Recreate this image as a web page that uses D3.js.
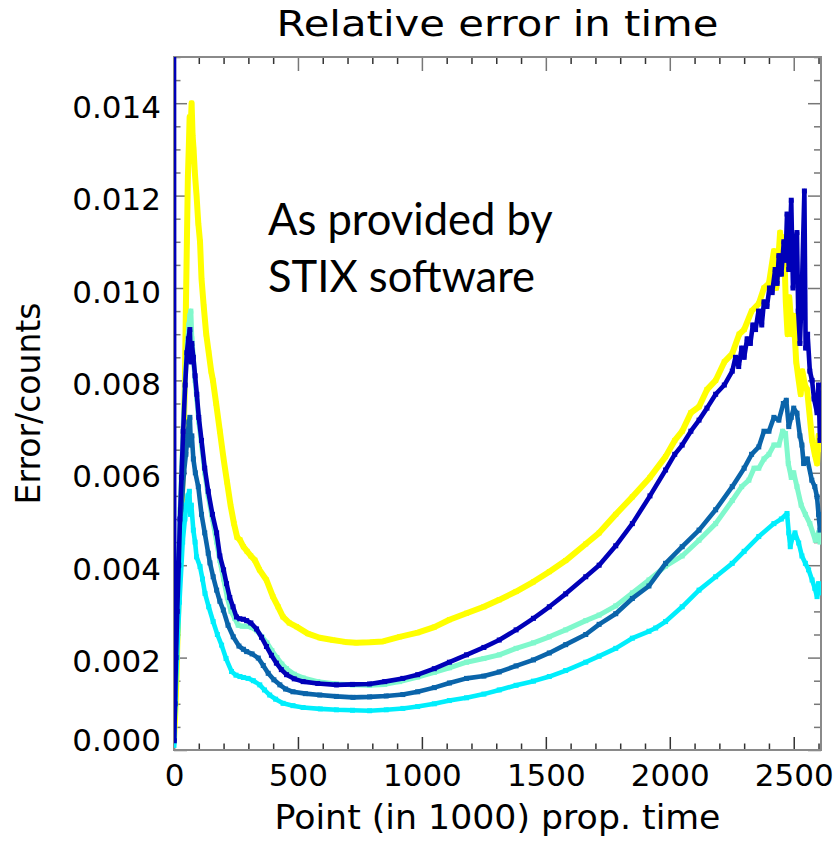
<!DOCTYPE html>
<html>
<head>
<meta charset="utf-8">
<script src="https://cdn.jsdelivr.net/npm/d3@7"></script>
<style>
  body { margin: 0; background: #ffffff; }
  svg { display: block; }
</style>
</head>
<body>
<svg id="chart" width="833" height="860"></svg>
<script>
// ---- axis ticks ----
const xTickValues = [0, 500, 1000, 1500, 2000, 2500];
const xTickLabels = ["0", "500", "1000", "1500", "2000", "2500"];
const yTickValues = [0, 0.002, 0.004, 0.006, 0.008, 0.010, 0.012, 0.014];
const yTickLabels = ["0.000", "0.002", "0.004", "0.006", "0.008", "0.010", "0.012", "0.014"];

// ---- relative error per run: [point (in 1000), error/counts] ----
const yellowSeries = [
  [0,0.0002],[5,0.0008],[10,0.0016],[15,0.0026],[21,0.0040],[28,0.0048],[34,0.0058],[40,0.0070],
  [44,0.0080],[48,0.0096],[52,0.0110],[56,0.0124],[60,0.0131],[63,0.0137],[67,0.0134],[71,0.0140],
  [75,0.0133],[79,0.0130],[84,0.0125],[91,0.0120],[98,0.0114],[105,0.0110],[111,0.0102],[120,0.0096],
  [130,0.0090],[140,0.0086],[150,0.0082],[157,0.0080],[170,0.0075],[185,0.0069],[200,0.0063],[214,0.0058],
  [228,0.0053],[242,0.0049],[255,0.0046],[266,0.00455],[280,0.0044],[295,0.0043],[310,0.0042],[326,0.00411],
  [345,0.0039],[373,0.00368],[399,0.00332],[420,0.0031],[440,0.00288],[465,0.00275],[494,0.00267],[540,0.00252],
  [588,0.00243],[640,0.00238],[690,0.00234],[735,0.00232],[790,0.00233],[843,0.00235],[910,0.00245],[983,0.00254],
  [1050,0.00266],[1111,0.00282],[1180,0.00296],[1250,0.0031],[1312,0.00325],[1380,0.00343],[1450,0.00364],[1514,0.00386],
  [1580,0.0041],[1661,0.00446],[1715,0.0047],[1782,0.0051],[1849,0.00548],[1920,0.0059],[1983,0.00635],[2020,0.0067],
  [2050,0.0069],[2085,0.0073],[2118,0.00743],[2150,0.0078],[2185,0.0080],[2220,0.0084],[2252,0.00858],[2280,0.0090],
  [2300,0.0091],[2330,0.0095],[2359,0.00966],[2380,0.0100],[2400,0.0101],[2420,0.0108],[2430,0.0100],[2445,0.0112],
  [2452,0.0104],[2460,0.0111],[2468,0.0097],[2475,0.0090],[2482,0.0098],[2493,0.0090],[2500,0.0094],[2510,0.0084],
  [2520,0.0080],[2528,0.0077],[2535,0.0082],[2545,0.0079],[2554,0.0078],[2565,0.0072],[2574,0.0067],[2585,0.0064],
  [2594,0.0062],[2600,0.0068],[2606,0.0065]
];

const aquaSeries = [
  [0,0.0002],[4,0.0011],[8,0.0021],[13,0.0031],[19,0.0042],[25,0.0052],[31,0.0061],[38,0.0071],
  [46,0.0081],[54,0.0088],[60,0.0092],[64,0.0094],[68,0.0095],[72,0.0089],[78,0.0085],[85,0.0080],
  [92,0.0076],[100,0.0071],[111,0.0066],[124,0.0060],[138,0.0055],[155,0.0050],[172,0.0045],[185,0.0041],
  [200,0.0037],[215,0.0033],[230,0.0030],[245,0.00285],[259,0.0027],[275,0.00268],[293,0.00268],[315,0.00265],
  [335,0.00258],[355,0.00245],[375,0.00232],[395,0.00215],[415,0.0020],[435,0.00186],[454,0.00176],[485,0.00164],
  [521,0.00156],[580,0.00148],[655,0.00143],[720,0.00141],[789,0.0014],[850,0.00142],[910,0.00148],[983,0.00158],
  [1050,0.00168],[1111,0.00178],[1180,0.0019],[1250,0.00198],[1312,0.00206],[1380,0.0022],[1450,0.00232],[1514,0.00245],
  [1580,0.0026],[1661,0.0028],[1715,0.00292],[1782,0.00312],[1849,0.00340],[1916,0.00368],[1983,0.00398],[2050,0.0042],
  [2118,0.00454],[2185,0.0049],[2252,0.0054],[2290,0.0057],[2319,0.00584],[2340,0.0061],[2359,0.0061],[2380,0.0063],
  [2400,0.0064],[2420,0.0066],[2440,0.0066],[2455,0.0069],[2467,0.00685],[2478,0.0062],[2490,0.0059],[2500,0.0060],
  [2513,0.0057],[2530,0.0053],[2547,0.0051],[2565,0.0049],[2587,0.00454],[2600,0.0047],[2606,0.0045]
];

const steelSeries = [
  [0,0.0002],[5,0.0012],[12,0.0025],[20,0.0038],[30,0.0052],[40,0.0060],[48,0.0064],[55,0.0068],
  [60,0.0071],[64,0.0072],[68,0.0066],[72,0.0068],[78,0.0063],[86,0.0060],[98,0.0057],[111,0.0051],
  [124,0.0047],[138,0.00426],[145,0.00405],[158,0.00375],[172,0.00346],[185,0.00322],[199,0.00303],[218,0.0027],
  [239,0.00245],[262,0.00225],[280,0.00218],[293,0.00213],[315,0.00208],[340,0.00199],[360,0.00183],[380,0.00166],
  [403,0.00152],[427,0.00141],[450,0.00132],[480,0.00126],[530,0.00122],[588,0.00119],[655,0.00116],[722,0.00114],
  [789,0.00115],[856,0.00117],[923,0.0012],[983,0.00126],[1050,0.00135],[1111,0.00145],[1180,0.00155],[1250,0.0016],
  [1312,0.00169],[1380,0.00182],[1450,0.00195],[1514,0.0021],[1580,0.00228],[1661,0.0025],[1715,0.00272],[1782,0.00295],
  [1849,0.00328],[1916,0.00355],[1983,0.00404],[2050,0.0044],[2118,0.00476],[2185,0.0052],[2252,0.0057],[2300,0.0061],
  [2330,0.0064],[2359,0.00656],[2380,0.0069],[2400,0.0069],[2420,0.0072],[2440,0.00714],[2458,0.0075],[2470,0.00757],
  [2480,0.0070],[2490,0.0072],[2500,0.0074],[2513,0.00729],[2525,0.0068],[2533,0.0066],[2540,0.0062],[2555,0.0063],
  [2573,0.00584],[2585,0.0057],[2594,0.00548],[2600,0.0051],[2606,0.00476]
];

const cyanSeries = [
  [0,0.0001],[5,0.0010],[12,0.0020],[22,0.0032],[35,0.0045],[44,0.0050],[50,0.0053],[56,0.0055],
  [62,0.0056],[66,0.0051],[70,0.0053],[78,0.00476],[85,0.0045],[91,0.00418],[105,0.00397],[115,0.0037],
  [125,0.00339],[140,0.0031],[158,0.00278],[175,0.0025],[192,0.00227],[210,0.00198],[232,0.0017],[250,0.00162],
  [266,0.00159],[280,0.00157],[299,0.00155],[320,0.0015],[346,0.00141],[365,0.0013],[386,0.00119],[410,0.0011],
  [440,0.00101],[480,0.00096],[521,0.00092],[590,0.00089],[655,0.00087],[720,0.00086],[789,0.00085],[856,0.00087],
  [923,0.0009],[983,0.00094],[1050,0.0010],[1111,0.00107],[1180,0.00113],[1250,0.00121],[1312,0.0013],[1380,0.0014],
  [1450,0.00149],[1514,0.00159],[1580,0.00172],[1661,0.0019],[1715,0.00203],[1782,0.0022],[1849,0.00242],[1916,0.00257],
  [1943,0.00264],[1983,0.00278],[2050,0.0031],[2118,0.00346],[2185,0.00375],[2252,0.00404],[2300,0.0043],[2359,0.00462],
  [2420,0.0049],[2450,0.0050],[2473,0.00512],[2480,0.0047],[2486,0.0044],[2495,0.0046],[2505,0.0047],[2520,0.00448],
  [2533,0.0042],[2547,0.00404],[2560,0.0039],[2574,0.00368],[2585,0.0035],[2594,0.00332],[2600,0.0036],[2606,0.0034]
];

const navySeries = [
  [0,0.0165],[1,0.0002],[4,0.0010],[8,0.0020],[13,0.0030],[19,0.0040],[24,0.0050],[30,0.0059],
  [37,0.0069],[45,0.0079],[52,0.0086],[58,0.0089],[64,0.0091],[68,0.0084],[72,0.0088],[78,0.0085],
  [85,0.0081],[92,0.0077],[100,0.0072],[111,0.0067],[124,0.0061],[138,0.0056],[155,0.0051],[172,0.0047],
  [185,0.0042],[200,0.0039],[212,0.0036],[225,0.0033],[238,0.0031],[252,0.00288],[265,0.00284],[280,0.00283],
  [293,0.0028],[310,0.00275],[333,0.00262],[353,0.00244],[373,0.00224],[393,0.00205],[413,0.00188],[433,0.00174],
  [454,0.00163],[485,0.00154],[521,0.00148],[580,0.00144],[655,0.00141],[720,0.00142],[789,0.00143],[850,0.00148],
  [923,0.00155],[983,0.00163],[1050,0.00176],[1111,0.0019],[1180,0.00206],[1250,0.00222],[1312,0.00238],[1380,0.0026],
  [1450,0.00285],[1514,0.0031],[1580,0.00338],[1661,0.00375],[1715,0.0040],[1782,0.00442],[1849,0.0049],[1920,0.0055],
  [1983,0.00606],[2020,0.0064],[2050,0.0066],[2085,0.0069],[2118,0.00714],[2150,0.0074],[2185,0.0077],[2220,0.0079],
  [2252,0.0082],[2265,0.0085],[2278,0.0083],[2290,0.0087],[2300,0.0085],[2312,0.0089],[2325,0.0088],[2335,0.0092],
  [2346,0.0091],[2358,0.0095],[2371,0.0092],[2380,0.0097],[2392,0.0096],[2402,0.0100],[2413,0.0099],[2425,0.0104],
  [2433,0.0101],[2440,0.0107],[2450,0.0103],[2460,0.0110],[2467,0.0106],[2473,0.0116],[2480,0.0104],[2490,0.0119],
  [2497,0.0100],[2505,0.0110],[2513,0.0112],[2518,0.0095],[2525,0.0088],[2533,0.0100],[2543,0.0121],[2548,0.0087],
  [2556,0.0090],[2565,0.0082],[2574,0.0080],[2582,0.0076],[2594,0.0073],[2600,0.0079],[2606,0.0067]
];

// drawing order: later runs sit on top
const runs = [
  { data: yellowSeries, color: "#ffff00", width: 6 },
  { data: aquaSeries,   color: "#80f8cc", width: 5 },
  { data: steelSeries,  color: "#0a64aa", width: 4.6 },
  { data: cyanSeries,   color: "#00eefc", width: 4.6 },
  { data: navySeries,   color: "#0000b8", width: 4.6 }
];

// ---- layout ----
const plot = { left: 174, right: 821, top: 57, bottom: 750 };
const axisGray = "#8a8a8a";
const tickFont = "'DejaVu Sans', sans-serif";

const svg = d3.select("#chart");

const x = d3.scaleLinear().domain([0, 2610]).range([plot.left, plot.right]);
const y = d3.scaleLinear().domain([0, 0.015]).range([plot.bottom, plot.top]);

svg.append("defs").append("clipPath").attr("id", "plotClip")
  .append("rect")
  .attr("x", plot.left).attr("y", plot.top)
  .attr("width", plot.right - plot.left).attr("height", plot.bottom - plot.top);

// ---- axes (box with ticks on all four sides) ----
const xMinor = d3.range(0, 2601, 100).filter(v => !xTickValues.includes(v));
const yMinor = d3.range(0, 31).map(i => +(i * 0.0005).toFixed(4))
  .filter(v => !yTickValues.some(t => Math.abs(t - v) < 1e-9));

function styleAxis(g, color) {
  g.select(".domain").remove();
  g.selectAll(".tick line").attr("stroke", color).attr("stroke-width", 1.5);
}

// bottom
svg.append("g").attr("transform", `translate(0,${plot.bottom})`)
  .call(d3.axisBottom(x).tickValues(xMinor).tickSize(-6.5).tickFormat(""))
  .call(g => styleAxis(g, "#333"));
const xMajor = svg.append("g").attr("transform", `translate(0,${plot.bottom})`)
  .call(d3.axisBottom(x).tickValues(xTickValues).tickSize(-13)
    .tickFormat((d, i) => xTickLabels[i]).tickPadding(0))
  .call(g => styleAxis(g, "#333"));
xMajor.selectAll(".tick text")
  .attr("y", 36).attr("dy", null)
  .attr("font-family", tickFont).attr("font-size", 31).attr("fill", "#000");

// top
svg.append("g").attr("transform", `translate(0,${plot.top})`)
  .call(d3.axisTop(x).tickValues(xMinor).tickSize(-7).tickFormat(""))
  .call(g => styleAxis(g, "#333"));
svg.append("g").attr("transform", `translate(0,${plot.top})`)
  .call(d3.axisTop(x).tickValues(xTickValues).tickSize(-14).tickFormat(""))
  .call(g => styleAxis(g, "#777"));

// left
svg.append("g").attr("transform", `translate(${plot.left},0)`)
  .call(d3.axisLeft(y).tickValues(yMinor).tickSize(-6.5).tickFormat(""))
  .call(g => styleAxis(g, "#777"));
const yMajor = svg.append("g").attr("transform", `translate(${plot.left},0)`)
  .call(d3.axisLeft(y).tickValues(yTickValues).tickSize(-13)
    .tickFormat((d, i) => yTickLabels[i]).tickPadding(0))
  .call(g => styleAxis(g, "#777"));
// labels sit centred on their tick; the bottom one is lifted clear of the x axis
yMajor.selectAll(".tick text")
  .attr("x", -13).attr("dy", null)
  .attr("y", d => Math.min(14, plot.bottom - y(d) + 0.5))
  .attr("font-family", tickFont).attr("font-size", 31).attr("fill", "#000");

// right
svg.append("g").attr("transform", `translate(${plot.right},0)`)
  .call(d3.axisRight(y).tickValues(yMinor).tickSize(-7).tickFormat(""))
  .call(g => styleAxis(g, "#777"));
svg.append("g").attr("transform", `translate(${plot.right},0)`)
  .call(d3.axisRight(y).tickValues(yTickValues).tickSize(-13).tickFormat(""))
  .call(g => styleAxis(g, "#777"));

// frame
svg.append("rect")
  .attr("x", plot.left).attr("y", plot.top)
  .attr("width", plot.right - plot.left).attr("height", plot.bottom - plot.top)
  .attr("fill", "none").attr("stroke", axisGray).attr("stroke-width", 2);

// ---- data (drawn over the frame so the navy start trace covers the left edge) ----
const line = d3.line().x(d => x(d[0])).y(d => y(d[1]));
const dataLayer = svg.append("g").attr("clip-path", "url(#plotClip)");

runs.forEach(run => {
  const g = dataLayer.append("g");
  g.append("path")
    .datum(run.data)
    .attr("d", line)
    .attr("fill", "none")
    .attr("stroke", run.color)
    .attr("stroke-width", run.width)
    .attr("stroke-linejoin", "round");
  g.selectAll("rect")
    .data(run.data)
    .join("rect")
    .attr("x", d => x(d[0]) - 2.5)
    .attr("y", d => y(d[1]) - 2.5)
    .attr("width", 5)
    .attr("height", 5)
    .attr("fill", run.color);
});

// ---- titles ----
const midX = (plot.left + plot.right) / 2;
svg.append("text")
  .attr("x", midX).attr("y", 36)
  .attr("text-anchor", "middle")
  .attr("font-family", tickFont).attr("font-size", 35)
  .attr("textLength", 442).attr("lengthAdjust", "spacingAndGlyphs")
  .text("Relative error in time");

svg.append("text")
  .attr("x", midX).attr("y", 829)
  .attr("text-anchor", "middle")
  .attr("font-family", tickFont).attr("font-size", 33)
  .attr("textLength", 446).attr("lengthAdjust", "spacingAndGlyphs")
  .text("Point (in 1000) prop. time");

svg.append("text")
  .attr("transform", `translate(40,${(plot.top + plot.bottom) / 2}) rotate(-90)`)
  .attr("text-anchor", "middle")
  .attr("font-family", tickFont).attr("font-size", 33)
  .text("Error/counts");

// ---- annotation ----
const note = svg.append("text")
  .attr("font-family", "Lato, 'Open Sans', sans-serif")
  .attr("font-size", 43.5)
  .attr("fill", "#000");
note.append("tspan").attr("x", 268).attr("y", 235).text("As provided by");
note.append("tspan").attr("x", 268).attr("y", 292).text("STIX software");
</script>
</body>
</html>
